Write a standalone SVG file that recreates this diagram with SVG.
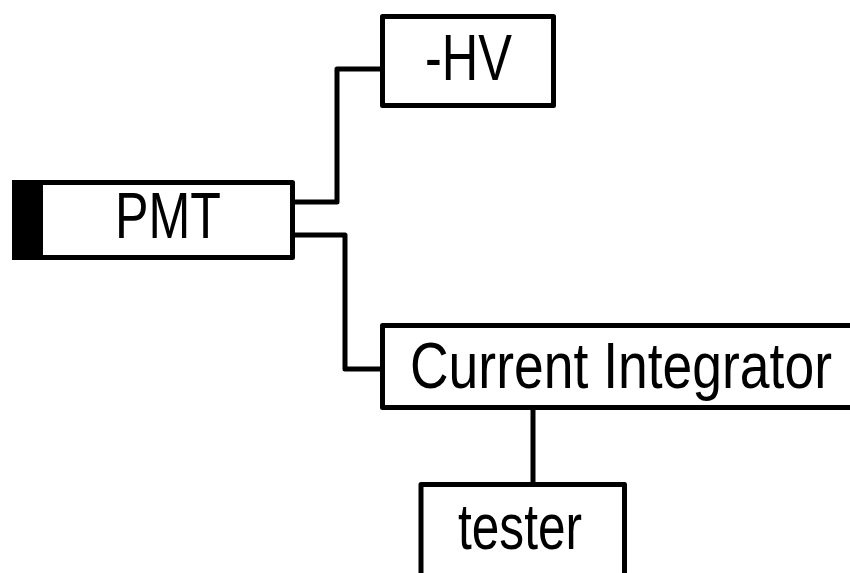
<svg xmlns="http://www.w3.org/2000/svg" width="850" height="573" viewBox="0 0 850 573">
<style>
.box{fill:#fff;stroke:#000;stroke-width:5;stroke-linejoin:round}
.lbl{font-family:"Liberation Sans",Arial,sans-serif;font-size:64px;fill:#000;text-anchor:middle}
.wire{fill:none;stroke:#000;stroke-width:5;stroke-linejoin:round}
</style>
<rect width="850" height="573" fill="#fff"/>
<g id="connectors">
<path class="wire" d="M295,202 H337 V69 H382"/>
<path class="wire" d="M295,235 H345 V369 H382"/>
<path class="wire" d="M533,408 V485"/>
</g>
<g id="pmt">
<rect class="box" x="14.5" y="182.5" width="278" height="75"/>
<rect x="12" y="180" width="31" height="80" fill="#000"/>
<text class="lbl" x="168" y="238" textLength="106" lengthAdjust="spacingAndGlyphs">PMT</text>
</g>
<g id="hv">
<rect class="box" x="382.5" y="16.5" width="171" height="89"/>
<text class="lbl" x="468.5" y="80" textLength="87" lengthAdjust="spacingAndGlyphs">-HV</text>
</g>
<g id="integrator">
<rect class="box" x="382.5" y="325.5" width="480" height="82"/>
<text class="lbl" x="621" y="388" textLength="422" lengthAdjust="spacingAndGlyphs">Current Integrator</text>
</g>
<g id="tester">
<rect class="box" x="421" y="484.5" width="203.5" height="110"/>
<text class="lbl" x="520" y="549" textLength="124" lengthAdjust="spacingAndGlyphs">tester</text>
</g>
</svg>
